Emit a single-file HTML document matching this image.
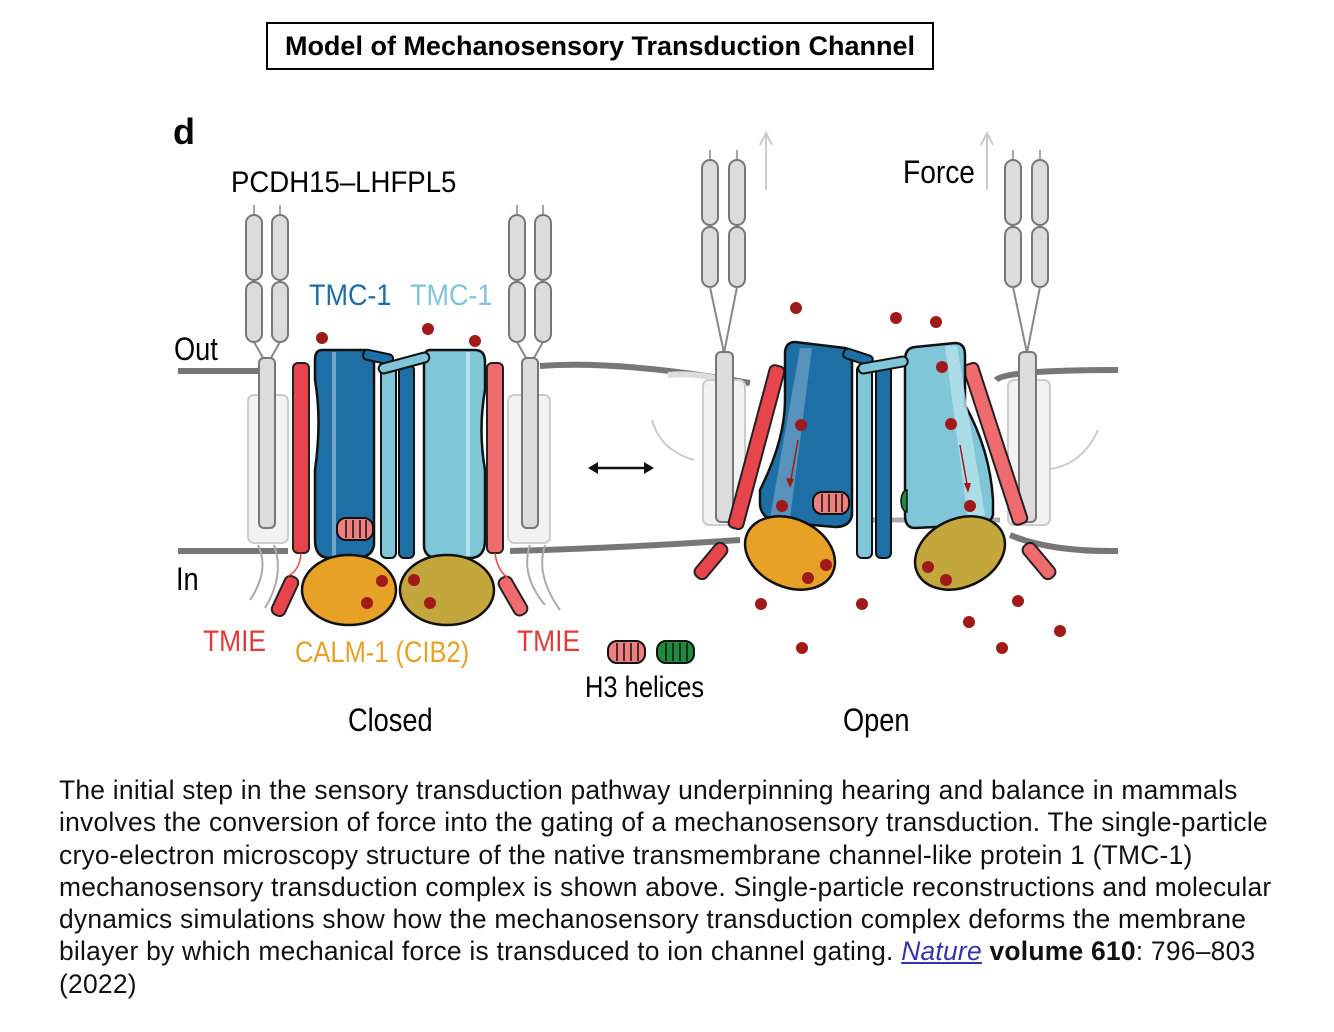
<!DOCTYPE html>
<html><head><style>
body{margin:0;background:#fff;width:1334px;height:1032px;overflow:hidden;position:relative;font-family:"Liberation Sans",sans-serif}
.title{position:absolute;left:266px;top:22px;width:668px;height:48px;border:2px solid #000;box-sizing:border-box;font-weight:bold;font-size:27px;text-align:center;line-height:45px}
.cap{position:absolute;left:59px;top:774px;width:1232px;font-size:26.4px;line-height:32.3px;color:#111;letter-spacing:0.25px}
.cap a{color:#3333aa;font-style:italic;text-decoration:underline}
</style></head><body>
<div class="title">Model of Mechanosensory Transduction Channel</div>
<svg width="1334" height="1032" style="position:absolute;left:0;top:0" font-family="Liberation Sans, sans-serif">
<defs>
<g id="cap2">
<line x1="0" y1="-10" x2="0" y2="0" stroke="#888" stroke-width="1.5"/>
<rect x="-8" y="0" width="16" height="65" rx="8" fill="#dcdcdc" stroke="#777" stroke-width="2"/>
<rect x="-8" y="67" width="16" height="60" rx="8" fill="#dcdcdc" stroke="#777" stroke-width="2"/>
</g>
</defs>
<text x="173" y="144" font-size="36" font-weight="bold">d</text>
<text x="231" y="192" font-size="30" transform="scale(0.92,1)" transform-origin="231 192">PCDH15–LHFPL5</text>
<g stroke="#777" stroke-width="6" fill="none">
<line x1="178" y1="371" x2="262" y2="371"/><line x1="178" y1="551" x2="288" y2="551"/>
<path d="M540 366 Q620 360 750 383"/><path d="M510 551 Q620 548 740 540"/>
<path d="M996 380 Q1005 370 1118 370"/><path d="M1010 535 Q1050 552 1118 551"/>
<path d="M668 375 Q700 372 740 384" stroke="#ddd"/>
<path d="M860 520 L1000 520" stroke="#aaa" stroke-width="5"/>
</g>
<rect x="248" y="395" width="40" height="148" rx="6" fill="#f2f2f2" stroke="#ccc" stroke-width="2"/>
<use href="#cap2" x="254" y="215"/><use href="#cap2" x="280" y="215"/>
<path d="M254 342 L267 365 M280 342 L267 365" stroke="#888" stroke-width="2"/>
<rect x="259" y="358" width="16" height="170" rx="5" fill="#dcdcdc" stroke="#777" stroke-width="2"/>
<path d="M258 545 Q270 570 250 600 M274 545 Q285 575 265 608" stroke="#aaa" stroke-width="2" fill="none"/>
<rect x="508" y="395" width="42" height="148" rx="6" fill="#f2f2f2" stroke="#ccc" stroke-width="2"/>
<use href="#cap2" x="517" y="215"/><use href="#cap2" x="543" y="215"/>
<path d="M517 342 L530 365 M543 342 L530 365" stroke="#888" stroke-width="2"/>
<rect x="522" y="358" width="16" height="170" rx="5" fill="#dcdcdc" stroke="#777" stroke-width="2"/>
<path d="M530 545 Q520 575 545 605 M545 545 Q535 575 560 610" stroke="#aaa" stroke-width="2" fill="none"/>
<rect x="293" y="363" width="16" height="190" rx="5" fill="#e8444c" stroke="#222" stroke-width="2"/>
<rect x="487" y="363" width="16" height="190" rx="5" fill="#ef6b6e" stroke="#222" stroke-width="2"/>
<rect x="278" y="575" width="14" height="42" rx="6" fill="#e8444c" stroke="#222" stroke-width="2" transform="rotate(25 285 596)"/>
<rect x="506" y="575" width="14" height="42" rx="6" fill="#ef6b6e" stroke="#222" stroke-width="2" transform="rotate(-30 513 596)"/>
<path d="M301 553 Q300 570 288 576 M495 553 Q497 570 508 578" stroke="#e44" stroke-width="1.5" fill="none"/>
<path d="M322 350 L365 350 Q374 350 374 360 L374 545 Q372 558 355 558 L330 558 Q315 558 315 540 L315 470 Q322 420 315 380 L315 360 Q315 350 322 350Z" fill="#1e6fa5" stroke="#111" stroke-width="2.5"/>
<rect x="332" y="352" width="4" height="204" fill="#6fa3c8"/>
<path d="M430 350 L475 350 Q485 350 485 362 L485 390 Q478 430 485 470 L485 540 Q485 558 470 558 L438 558 Q424 558 424 545 L424 360 Q424 350 430 350Z" fill="#7ec6d8" stroke="#111" stroke-width="2.5"/>
<rect x="466" y="352" width="4" height="204" fill="#b6e2ec"/>
<rect x="381" y="365" width="15" height="193" rx="5" fill="#7ec6d8" stroke="#111" stroke-width="2"/>
<rect x="399" y="365" width="15" height="193" rx="5" fill="#1e6fa5" stroke="#111" stroke-width="2"/>
<rect x="363" y="352" width="30" height="10" rx="4" fill="#1e6fa5" stroke="#111" stroke-width="2" transform="rotate(12 378 357)"/>
<rect x="378" y="358" width="52" height="10" rx="5" fill="#7ec6d8" stroke="#111" stroke-width="2" transform="rotate(-15 404 363)"/>
<rect x="337" y="518" width="36" height="22" rx="9" fill="#f08080" stroke="#111" stroke-width="2"/>
<path d="M346 520v18M353 520v18M360 520v18M366 520v18" stroke="#111" stroke-width="1.5"/>
<ellipse cx="349" cy="590" rx="47" ry="35" fill="#e8a127" stroke="#111" stroke-width="2.5"/>
<ellipse cx="447" cy="590" rx="47" ry="35" fill="#c4a73c" stroke="#111" stroke-width="2.5"/>
<g fill="#a01a1a">
<circle cx="322" cy="338" r="6"/><circle cx="428" cy="329" r="6"/><circle cx="475" cy="341" r="6"/>
<circle cx="382" cy="581" r="6"/><circle cx="367" cy="603" r="6"/><circle cx="414" cy="580" r="6"/><circle cx="430" cy="603" r="6"/>
</g>
<text x="309" y="305" font-size="30" fill="#1e6fa5" transform="scale(0.9,1)" transform-origin="309 305">TMC-1</text>
<text x="410" y="305" font-size="30" fill="#7ec6d8" transform="scale(0.9,1)" transform-origin="410 305">TMC-1</text>
<text x="174" y="360" font-size="32" transform="scale(0.85,1)" transform-origin="174 360">Out</text>
<text x="176" y="590" font-size="32" transform="scale(0.85,1)" transform-origin="176 590">In</text>
<text x="203" y="651" font-size="30" fill="#e03a3a" transform="scale(0.88,1)" transform-origin="203 651">TMIE</text>
<text x="517" y="651" font-size="30" fill="#e03a3a" transform="scale(0.88,1)" transform-origin="517 651">TMIE</text>
<text x="295" y="662" font-size="30" fill="#e8a127" transform="scale(0.85,1)" transform-origin="295 662">CALM-1 (CIB2)</text>
<text x="348" y="731" font-size="32" transform="scale(0.85,1)" transform-origin="348 731">Closed</text>
<text x="843" y="731" font-size="32" transform="scale(0.85,1)" transform-origin="843 731">Open</text>
<text x="585" y="697" font-size="30" transform="scale(0.85,1)" transform-origin="585 697">H3 helices</text>
<rect x="608" y="641" width="37" height="22" rx="9" fill="#f08080" stroke="#111" stroke-width="2"/>
<path d="M617 643v18M624 643v18M631 643v18M638 643v18" stroke="#111" stroke-width="1.5"/>
<rect x="657" y="641" width="37" height="22" rx="9" fill="#1f8a3c" stroke="#111" stroke-width="2"/>
<path d="M666 643v18M673 643v18M680 643v18M687 643v18" stroke="#111" stroke-width="1.5"/>
<path d="M590 468 L652 468" stroke="#111" stroke-width="2.5"/>
<path d="M588 468 l10 -6 v12z M654 468 l-10 -6 v12z" fill="#111"/>
<text x="903" y="183" font-size="32" transform="scale(0.88,1)" transform-origin="903 183">Force</text>
<path d="M766 190 V135 M760 145 L766 133 L772 145 M987 190 V135 M981 145 L987 133 L993 145" stroke="#ccc" stroke-width="2" fill="none"/>
<path d="M694 460 Q660 450 652 420 M1038 470 Q1080 470 1098 430" stroke="#ccc" stroke-width="2" fill="none"/>
<rect x="703" y="380" width="42" height="145" rx="6" fill="#f2f2f2" stroke="#ccc" stroke-width="2"/>
<use href="#cap2" x="710" y="160"/><use href="#cap2" x="737" y="160"/>
<path d="M710 287 L724 353 M737 287 L724 353" stroke="#888" stroke-width="2"/>
<rect x="716" y="352" width="17" height="170" rx="5" fill="#dcdcdc" stroke="#777" stroke-width="2"/>
<rect x="1008" y="380" width="42" height="145" rx="6" fill="#f2f2f2" stroke="#ccc" stroke-width="2"/>
<use href="#cap2" x="1013" y="160"/><use href="#cap2" x="1040" y="160"/>
<path d="M1013 287 L1027 353 M1040 287 L1027 353" stroke="#888" stroke-width="2"/>
<rect x="1019" y="352" width="17" height="170" rx="5" fill="#dcdcdc" stroke="#777" stroke-width="2"/>
<rect x="749" y="363" width="15" height="168" rx="5" fill="#e8444c" stroke="#222" stroke-width="2" transform="rotate(15 756 447)"/>
<rect x="988" y="360" width="15" height="168" rx="5" fill="#ef6b6e" stroke="#222" stroke-width="2" transform="rotate(-18 995 444)"/>
<rect x="704" y="540" width="14" height="42" rx="6" fill="#e8444c" stroke="#222" stroke-width="2" transform="rotate(40 711 561)"/>
<rect x="1032" y="540" width="14" height="42" rx="6" fill="#ef6b6e" stroke="#222" stroke-width="2" transform="rotate(-40 1039 561)"/>
<path d="M795 342 L845 348 Q852 350 852 358 L852 515 Q850 527 835 527 L780 522 Q762 520 760 505 L760 490 Q785 440 785 400 L785 352 Q786 342 795 342Z" fill="#1e6fa5" stroke="#111" stroke-width="2.5"/>
<path d="M800 348 L812 348 L790 518 L770 518Z" fill="#6fa3c8" opacity="0.7"/>
<path d="M915 347 L955 343 Q965 343 965 355 L965 405 Q990 450 993 500 L993 515 Q990 525 975 525 L915 528 Q905 528 905 515 L905 360 Q905 348 915 347Z" fill="#7ec6d8" stroke="#111" stroke-width="2.5"/>
<path d="M945 346 L957 346 L985 515 L968 520Z" fill="#b6e2ec" opacity="0.8"/>
<rect x="857" y="365" width="15" height="193" rx="5" fill="#7ec6d8" stroke="#111" stroke-width="2"/>
<rect x="876" y="365" width="15" height="193" rx="5" fill="#1e6fa5" stroke="#111" stroke-width="2"/>
<rect x="843" y="352" width="30" height="10" rx="4" fill="#1e6fa5" stroke="#111" stroke-width="2" transform="rotate(18 858 357)"/>
<rect x="858" y="360" width="50" height="10" rx="5" fill="#7ec6d8" stroke="#111" stroke-width="2" transform="rotate(-10 883 365)"/>
<rect x="813" y="492" width="36" height="22" rx="9" fill="#f08080" stroke="#111" stroke-width="2"/>
<path d="M822 494v18M829 494v18M836 494v18M842 494v18" stroke="#111" stroke-width="1.5"/>
<path d="M907 490 a6 11 0 0 0 0 22z" fill="#1f8a3c" stroke="#111" stroke-width="1.5"/>
<ellipse cx="790" cy="553" rx="47" ry="34" fill="#e8a127" stroke="#111" stroke-width="2.5" transform="rotate(25 790 553)"/>
<ellipse cx="960" cy="553" rx="47" ry="34" fill="#c4a73c" stroke="#111" stroke-width="2.5" transform="rotate(-25 960 553)"/>
<path d="M798 440 L790 485 M960 445 L968 490" stroke="#a01a1a" stroke-width="1.5"/>
<path d="M786 478 l4 10 4-9z M964 483 l4 10 3-10z" fill="#a01a1a"/>
<g fill="#a01a1a">
<circle cx="796" cy="308" r="6"/><circle cx="896" cy="318" r="6"/><circle cx="936" cy="322" r="6"/>
<circle cx="801" cy="425" r="6"/><circle cx="782" cy="506" r="6"/>
<circle cx="942" cy="367" r="6"/><circle cx="951" cy="424" r="6"/><circle cx="970" cy="506" r="6"/>
<circle cx="826" cy="565" r="6"/><circle cx="808" cy="578" r="6"/><circle cx="928" cy="567" r="6"/><circle cx="946" cy="580" r="6"/>
<circle cx="761" cy="604" r="6"/><circle cx="862" cy="604" r="6"/><circle cx="1018" cy="601" r="6"/><circle cx="969" cy="622" r="6"/><circle cx="1060" cy="631" r="6"/><circle cx="802" cy="648" r="6"/><circle cx="1002" cy="648" r="6"/>
</g>
</svg>
<div class="cap">The initial step in the sensory transduction pathway underpinning hearing and balance in mammals involves the conversion of force into the gating of a mechanosensory transduction. The single-particle cryo-electron microscopy structure of the native transmembrane channel-like protein 1 (TMC-1) mechanosensory transduction complex is shown above. Single-particle reconstructions and molecular dynamics simulations show how the mechanosensory transduction complex deforms the membrane bilayer by which mechanical force is transduced to ion channel gating. <a>Nature</a> <b>volume 610</b>: 796–803 (2022)</div>
</body></html>
